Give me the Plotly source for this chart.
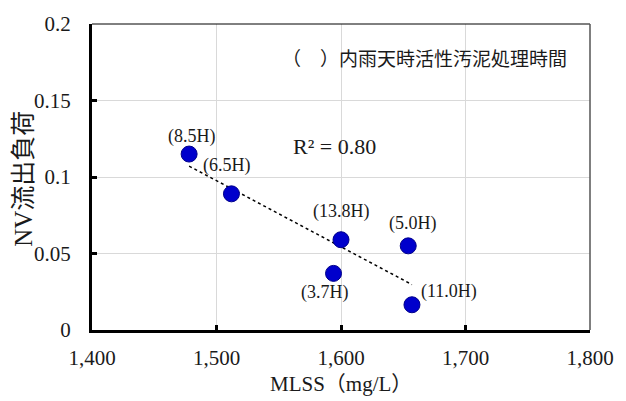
import numpy as np
import plotly.graph_objects as go

# MLSS (mg/L) vs NV outflow load, labelled by wet-weather activated sludge treatment hours
mlss = [1478, 1512, 1600, 1654, 1594, 1657]
nv_load = [0.115, 0.089, 0.059, 0.055, 0.037, 0.0165]
hours = ["(8.5H)", "(6.5H)", "(13.8H)", "(5.0H)", "(3.7H)", "(11.0H)"]
# label offsets in pixels (dx, dy) relative to each marker
label_dx = [3, -4, 0, 5, -9, 37]
label_dy = [18, 28, 28, 22, -19, 13]

x_ticks = [1400, 1500, 1600, 1700, 1800]
x_tick_text = ["1,400", "1,500", "1,600", "1,700", "1,800"]
y_ticks = [0, 0.05, 0.1, 0.15, 0.2]
y_tick_text = ["0", "0.05", "0.1", "0.15", "0.2"]

SERIF = "Liberation Serif, Noto Sans CJK JP"
SANS = "Noto Sans CJK JP"
TEXT = "#1a1a1a"

# linear trend line and its coefficient of determination
x_arr = np.array(mlss, dtype=float)
y_arr = np.array(nv_load, dtype=float)
slope, intercept = np.polyfit(x_arr, y_arr, 1)
pred = slope * x_arr + intercept
r2 = 1 - np.sum((y_arr - pred) ** 2) / np.sum((y_arr - y_arr.mean()) ** 2)
trend_x = [x_arr.min(), x_arr.max()]
trend_y = [slope * v + intercept for v in trend_x]

fig = go.Figure()
fig.add_trace(go.Scatter(
    x=trend_x, y=trend_y, mode="lines",
    line=dict(color="black", width=1.5, dash="dot"),
    hoverinfo="skip", showlegend=False,
))
fig.add_trace(go.Scatter(
    x=mlss, y=nv_load, mode="markers",
    marker=dict(size=16, color="#0000CC", line=dict(color="#00008B", width=1)),
    showlegend=False,
))

annotations = []
for xv, yv, txt, dx, dy in zip(mlss, nv_load, hours, label_dx, label_dy):
    annotations.append(dict(
        x=xv, y=yv, text=txt, showarrow=False, xref="x", yref="y",
        xshift=dx, yshift=dy,
        font=dict(family=SERIF, size=18, color=TEXT),
    ))
annotations.append(dict(
    x=1667, y=0.178, xref="x", yref="y", text="（　）内雨天時活性汚泥処理時間",
    showarrow=False, font=dict(family=SANS, size=19, color=TEXT),
))
annotations.append(dict(
    x=1594.5, y=0.12, xref="x", yref="y", text=f"R² = {r2:.2f}",
    showarrow=False, font=dict(family=SERIF, size=22, color=TEXT),
))
# axis titles
annotations.append(dict(
    x=0.5, y=-0.178, xref="paper", yref="paper", text="MLSS（mg/L）",
    showarrow=False, xanchor="center", yanchor="middle",
    font=dict(family=SERIF, size=21, color=TEXT),
))
annotations.append(dict(
    x=-0.138, y=0.495, xref="paper", yref="paper", text="NV流出負荷", textangle=-90,
    showarrow=False, xanchor="center", yanchor="middle",
    font=dict(family=SERIF, size=25, color=TEXT),
))

fig.update_layout(
    width=626, height=401,
    margin=dict(l=92, r=24, t=16, b=71),
    paper_bgcolor="white", plot_bgcolor="white",
    annotations=annotations,
    shapes=[
        dict(type="line", xref="x domain", yref="y domain", x0=0, x1=1, y0=1, y1=1,
             line=dict(color="black", width=1)),
        dict(type="line", xref="x domain", yref="y domain", x0=1, x1=1, y0=0, y1=1,
             line=dict(color="#555555", width=1.5)),
    ],
    xaxis=dict(
        range=[1400, 1800], tickvals=x_ticks, ticktext=x_tick_text,
        showgrid=True, gridcolor="#d9d9d9", gridwidth=1, zeroline=False,
        showline=True, linecolor="black", linewidth=3,
        ticks="inside", ticklen=5, tickwidth=3, tickcolor="black",
        ticklabelstandoff=7,
        tickfont=dict(family=SERIF, size=21, color=TEXT),
    ),
    yaxis=dict(
        range=[0, 0.2], tickvals=y_ticks, ticktext=y_tick_text,
        showgrid=True, gridcolor="#d9d9d9", gridwidth=1, zeroline=False,
        showline=True, linecolor="black", linewidth=3,
        ticks="inside", ticklen=5, tickwidth=3, tickcolor="black",
        ticklabelstandoff=14,
        tickfont=dict(family=SERIF, size=21, color=TEXT),
    ),
)

fig.write_html("out.html")
